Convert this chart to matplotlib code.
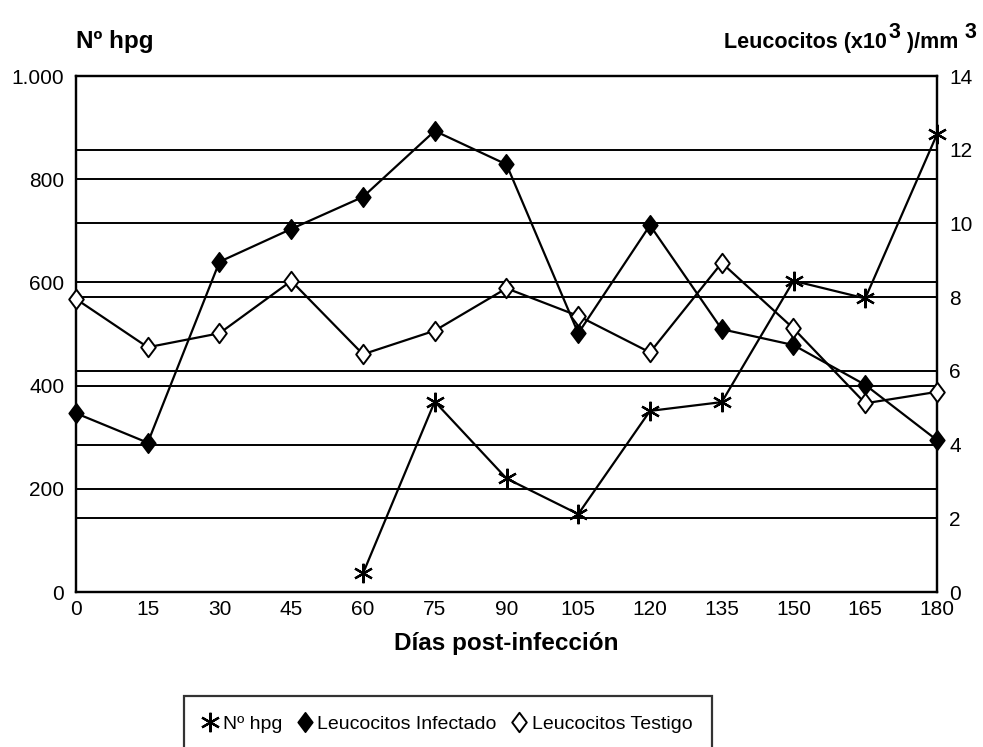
import matplotlib
matplotlib.use("Agg")
import matplotlib.pyplot as plt
from matplotlib.path import Path
import numpy as np

plt.rcParams['font.family'] = ['Liberation Sans', 'DejaVu Sans']

dias = [0, 15, 30, 45, 60, 75, 90, 105, 120, 135, 150, 165, 180]
hpg_dias = [60, 75, 90, 105, 120, 135, 150, 165, 180]
hpg = [36, 369, 220, 151, 351, 368, 603, 569, 887]
leuc_infectado = [4.85, 4.05, 8.96, 9.85, 10.72, 12.51, 11.6, 7.02, 9.95, 7.13, 6.70, 5.62, 4.12]
leuc_testigo = [7.95, 6.64, 7.02, 8.44, 6.45, 7.09, 8.24, 7.49, 6.50, 8.93, 7.15, 5.12, 5.43]

left_ticks = [0, 200, 400, 600, 800, 1000]
left_labels = ['0', '200', '400', '600', '800', '1.000']
right_ticks = [0, 2, 4, 6, 8, 10, 12, 14]

diamond = Path([(0, 1), (0.75, 0), (0, -1), (-0.75, 0), (0, 1)],
               [Path.MOVETO, Path.LINETO, Path.LINETO, Path.LINETO, Path.CLOSEPOLY])
asterisk = (6, 2, 0)

fig = plt.figure(figsize=(9.83, 7.47), dpi=100)
W, H = 983, 747
x0, x1, y0, y1 = 76, 937, 76, 592
ax = fig.add_axes([x0 / W, 1 - y1 / H, (x1 - x0) / W, (y1 - y0) / H])
ax2 = ax.twinx()

ax.set_xlim(0, 180)
ax.set_ylim(0, 1000)
ax2.set_ylim(0, 14)

gl = dict(color='black', lw=1.4, zorder=0)
for v in left_ticks[1:-1]:
    ax.axhline(v, **gl)
for v in right_ticks[1:-1]:
    ax2.axhline(v, **gl)

ax.plot(hpg_dias, hpg, color='black', lw=1.6, marker=asterisk, ms=14, mew=1.6,
        zorder=3, label='Nº hpg', clip_on=False)
ax2.plot(dias, leuc_infectado, color='black', lw=1.6, marker=diamond, ms=14,
         mfc='black', mec='black', mew=1.2, zorder=3, label='Leucocitos Infectado',
         clip_on=False)
ax2.plot(dias, leuc_testigo, color='black', lw=1.6, marker=diamond, ms=14,
         mfc='white', mec='black', mew=1.4, zorder=4, label='Leucocitos Testigo',
         clip_on=False)

ax.set_xticks(dias)
ax.set_yticks(left_ticks)
ax.set_yticklabels(left_labels)
ax2.set_yticks(right_ticks)
ax.tick_params(axis='both', length=0, labelsize=15)
ax.tick_params(axis='y', pad=8.5)
ax.tick_params(axis='x', pad=6)
ax2.tick_params(axis='y', length=0, labelsize=15, pad=9)

for a in (ax, ax2):
    for s in a.spines.values():
        s.set_color('black')
        s.set_linewidth(1.6)

ax.set_xlabel('Días post-infección', fontsize=17.5, fontweight='bold', labelpad=9)

base_y = 1 - 48 / H
fig.text(76 / W, base_y, 'Nº hpg', fontsize=17.5, fontweight='bold',
         ha='left', va='baseline')

# right axis title with raised, full-size superscripts
pieces = [('Leucocitos (x10', 0), ('3', 10), (' )/mm', 0), ('3', 10)]
texts = [fig.text(0, base_y + dy / H, s, fontsize=15.5, fontweight='bold',
                  ha='left', va='baseline') for s, dy in pieces]
fig.canvas.draw()
r = fig.canvas.get_renderer()
widths = [t.get_window_extent(r).width for t in texts]
gaps = [0, 2, 0, 6]
total = sum(widths) + sum(gaps)
xpos = 976 - total
for t, w, g in zip(texts, widths, gaps):
    xpos += g
    t.set_x(xpos / W)
    xpos += w

h1, lab1 = ax.get_legend_handles_labels()
h2, lab2 = ax2.get_legend_handles_labels()
leg = fig.legend(h1 + h2, lab1 + lab2, loc='upper center', ncol=3,
                 bbox_to_anchor=(448 / W, 1 - 686 / H), fontsize=14,
                 frameon=True, fancybox=False, handlelength=0.7, handletextpad=0.3,
                 columnspacing=0.8, borderpad=1.0, markerscale=1.0)
leg.get_frame().set_edgecolor('black')
leg.get_frame().set_linewidth(1.6)
for ln in leg.get_lines():
    ln.set_linestyle('None')

fig.savefig('out.png', dpi=100)
